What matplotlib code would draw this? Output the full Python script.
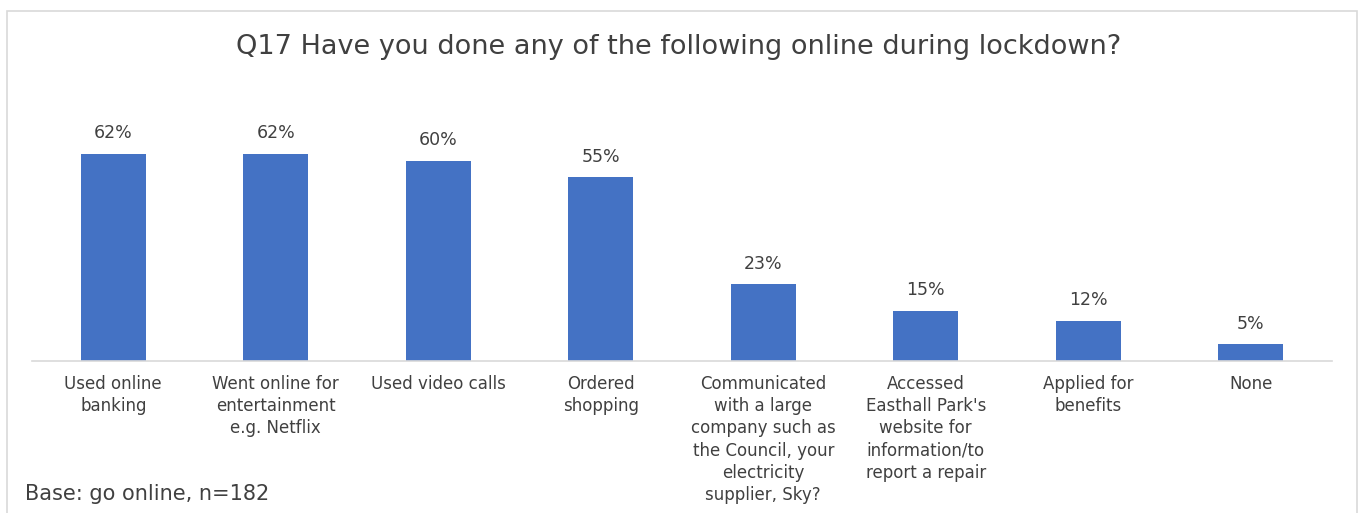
import matplotlib.pyplot as plt
from matplotlib.patches import Rectangle

categories = [
    "Used online\nbanking",
    "Went online for\nentertainment\ne.g. Netflix",
    "Used video calls",
    "Ordered\nshopping",
    "Communicated\nwith a large\ncompany such as\nthe Council, your\nelectricity\nsupplier, Sky?",
    "Accessed\nEasthall Park's\nwebsite for\ninformation/to\nreport a repair",
    "Applied for\nbenefits",
    "None",
]
values = [62, 62, 60, 55, 23, 15, 12, 5]

title = "Q17 Have you done any of the following online during lockdown?"
base_note = "Base: go online, n=182"

bar_color = "#4472C4"
text_color = "#404040"

plt.rcParams['font.family'] = ['DejaVu Sans']

fig = plt.figure(figsize=(13.62, 5.13), dpi=100)
ax = fig.add_axes([0.0235, 0.296, 0.9545, 0.456])

x = range(len(values))
ax.bar(x, values, width=0.4, color=bar_color)
for i, v in zip(x, values):
    ax.text(i, v + 3.5, f"{v}%", ha='center', va='bottom',
            fontsize=12.5, color=text_color)

ax.set_xlim(-0.5, len(values) - 0.5)
ax.set_ylim(0, 70)
ax.set_yticks([])
ax.set_xticks(list(x))
ax.set_xticklabels(categories, fontsize=12, color=text_color,
                   linespacing=1.3, va='top')
ax.tick_params(axis='x', length=0, pad=10)
for side in ['top', 'left', 'right']:
    ax.spines[side].set_visible(False)
ax.spines['bottom'].set_color('#D9D9D9')
ax.spines['bottom'].set_linewidth(1.2)

fig.text(0.498, 0.908, title, ha='center', va='center',
         fontsize=19.5, color=text_color)
fig.text(0.018, 0.038, base_note, ha='left', va='center',
         fontsize=15, color=text_color)

# light frame round the chart area
fig.add_artist(Rectangle((0.005, -0.05), 0.991, 1.029, transform=fig.transFigure,
                         fill=False, edgecolor='#D9D9D9', linewidth=1.2))

fig.savefig("out.png", dpi=100, facecolor='white')
